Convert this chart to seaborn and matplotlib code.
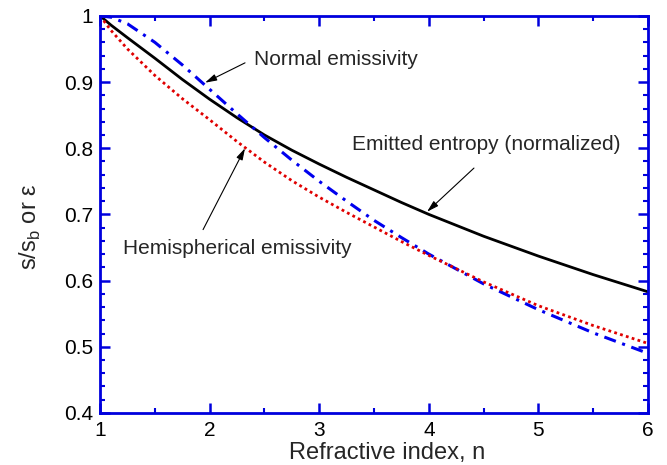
import matplotlib
matplotlib.use("Agg")
import numpy as np
import pandas as pd
import matplotlib.pyplot as plt
import seaborn as sns
from matplotlib.ticker import MultipleLocator, FixedLocator

# ---- data ----
n_values = [1.0, 1.1, 1.25, 1.5, 1.75, 2.0, 2.25, 2.5, 2.75, 3.0, 3.25, 3.5, 3.75, 4.0, 4.5, 5.0, 5.5, 6.0]
entropy_norm = [1.0, 0.986, 0.967, 0.936, 0.904, 0.874, 0.846, 0.820, 0.797, 0.776, 0.756, 0.737, 0.718, 0.700, 0.667, 0.637, 0.609, 0.583]
normal_emissivity = [1.0, 0.998, 0.988, 0.960, 0.926, 0.889, 0.852, 0.816, 0.782, 0.750, 0.720, 0.691, 0.665, 0.640, 0.595, 0.556, 0.521, 0.490]
hemispherical_emissivity = [1.0, 0.978, 0.950, 0.910, 0.875, 0.843, 0.810, 0.779, 0.751, 0.726, 0.703, 0.681, 0.659, 0.638, 0.598, 0.562, 0.532, 0.505]

y_ticks = [0.4, 0.5, 0.6, 0.7, 0.8, 0.9, 1.0]
y_tick_labels = ["0.4", "0.5", "0.6", "0.7", "0.8", "0.9", "1"]
x_ticks = [1, 2, 3, 4, 5, 6]
x_tick_labels = ["1", "2", "3", "4", "5", "6"]

label_normal = "Normal emissivity"
label_entropy = "Emitted entropy (normalized)"
label_hemi = "Hemispherical emissivity"

df = pd.DataFrame({
    "n": n_values,
    "entropy": entropy_norm,
    "normal": normal_emissivity,
    "hemi": hemispherical_emissivity,
})

sns.set_style("ticks")
plt.rcParams["font.family"] = ["Liberation Sans", "DejaVu Sans"]
plt.rcParams["mathtext.fontset"] = "custom"
plt.rcParams["mathtext.rm"] = "Liberation Sans"

frame = "#0000dd"

fig = plt.figure(figsize=(6.67, 4.65), dpi=100)
ax = fig.add_axes([0.150, 0.112, 0.8215, 0.8539])

sns.lineplot(data=df, x="n", y="entropy", color="black", lw=2.0, ax=ax)
sns.lineplot(data=df, x="n", y="normal", color="#0000ee", lw=2.2,
             linestyle=(0, (4.0, 2.2, 1.0, 2.2)), ax=ax)
sns.lineplot(data=df, x="n", y="hemi", color="#e00000", lw=2.0,
             linestyle=(0, (1.0, 1.2)), ax=ax)

ax.set_xlim(1, 6)
ax.set_ylim(0.4, 1.0)

ax.xaxis.set_major_locator(FixedLocator(x_ticks))
ax.set_xticklabels(x_tick_labels)
ax.yaxis.set_major_locator(FixedLocator(y_ticks))
ax.set_yticklabels(y_tick_labels)
ax.xaxis.set_minor_locator(MultipleLocator(0.5))
ax.yaxis.set_minor_locator(MultipleLocator(0.02))

ax.tick_params(which="both", direction="in", top=True, right=True,
               color=frame, labelcolor="black", labelsize=15)
ax.tick_params(which="major", length=7, width=1.8, pad=6)
ax.tick_params(which="minor", length=3.5, width=1.5)
ax.tick_params(axis="y", which="major", pad=5)

for sp in ax.spines.values():
    sp.set_color(frame)
    sp.set_linewidth(2.0)

ax.set_xlabel("Refractive index, n", fontsize=17, labelpad=0)
ax.xaxis.set_label_coords(0.524, -0.074)
ax.set_ylabel(r"s/s$_\mathregular{b}$ or ε", fontsize=17, labelpad=6)
ax.yaxis.set_label_coords(-0.105, 0.47)

arrow_kw = dict(arrowstyle="-|>,head_length=0.7,head_width=0.2",
                color="black", lw=0.8, shrinkA=0, shrinkB=0)

ax.text(2.405, 0.9335, label_normal, fontsize=15, ha="left", va="center")
ax.annotate("", xy=(1.958, 0.899), xytext=(2.323, 0.929), arrowprops=arrow_kw)

ax.text(3.299, 0.805, label_entropy, fontsize=15, ha="left", va="center")
ax.annotate("", xy=(3.984, 0.704), xytext=(4.412, 0.770), arrowprops=arrow_kw)

ax.text(1.21, 0.648, label_hemi, fontsize=15, ha="left", va="center")
ax.annotate("", xy=(2.323, 0.800), xytext=(1.940, 0.677), arrowprops=arrow_kw)

fig.savefig("out.png", dpi=100)
